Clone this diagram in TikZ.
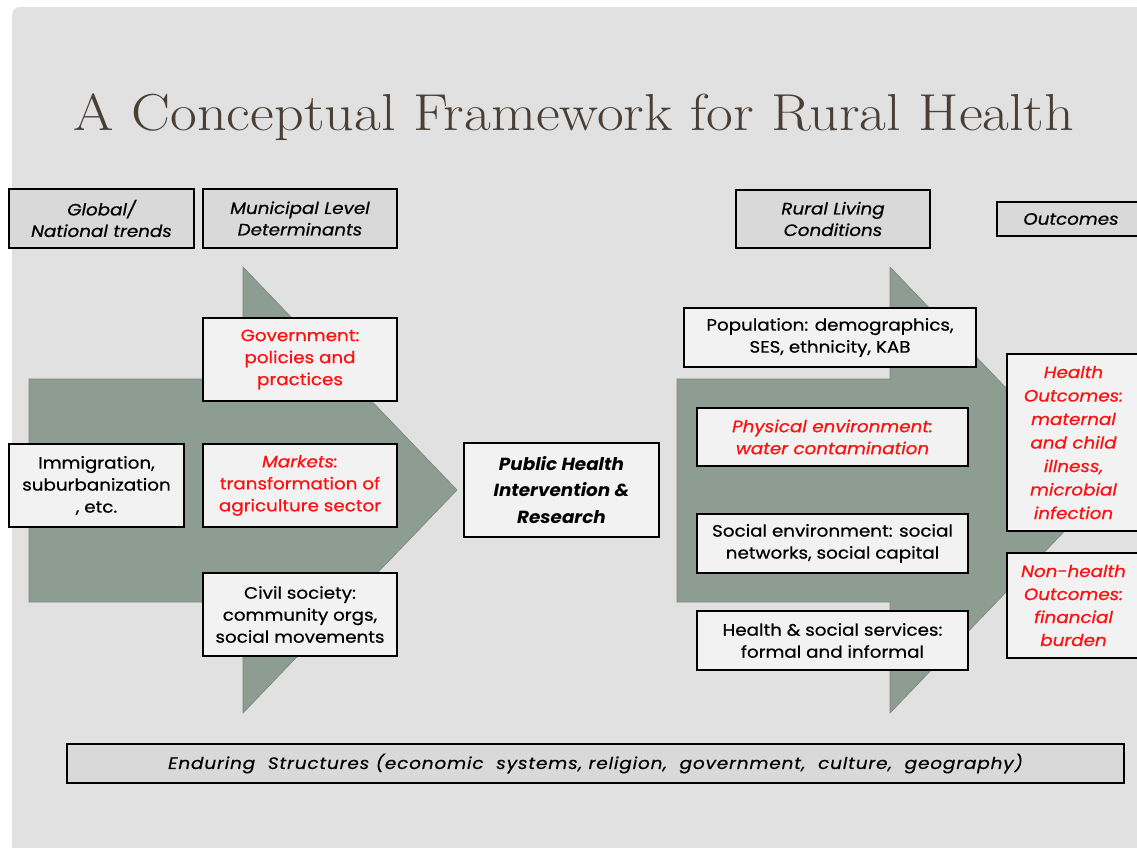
\documentclass[tikz,border=0pt]{standalone}
\usepackage{fontspec}
\newfontfamily\gothic[FakeStretch=1.11,FakeBold=0.5]{Poppins}
\newfontfamily\phfont[FakeStretch=1.05]{Poppins}
\newfontfamily\endfont[FakeStretch=1.12,LetterSpace=5,FakeBold=0.3]{Poppins}
\definecolor{panel}{HTML}{E1E1E1}
\definecolor{arrowc}{HTML}{8E9D92}
\definecolor{hdrfill}{HTML}{D9D9D9}
\definecolor{boxfill}{HTML}{F2F2F2}
\definecolor{titlec}{HTML}{4A3F36}
\definecolor{redt}{HTML}{FF1010}
\tikzset{
  box/.style={draw=black, line width=1.6pt, fill=boxfill, inner sep=1pt, align=center,
    font=\gothic\fontsize{16.5}{22}\selectfont},
  hdr/.style={box, fill=hdrfill, font=\gothic\itshape\fontsize{16.5}{21.5}\selectfont},
  redtxt/.style={text=redt},
  bigarrow/.style={fill=arrowc, draw=arrowc!85!black, line width=0.6pt},
}
\begin{document}
\begin{tikzpicture}[x=1pt,y=-1pt]
\useasboundingbox (0,0) rectangle (1137,847);
\clip (0,0) rectangle (1137,847);
\fill[white] (0,0) rectangle (1137,847);
\fill[panel, rounded corners=8pt] (12,7) rectangle (1170,880);
% title
\node[text=titlec, font=\fontsize{52}{58}\selectfont, anchor=base] (title) at (574,130) {\scalebox{1.12}[1]{A Conceptual Framework for Rural Health}};
% big arrows
\draw[bigarrow] (29,379) -- (243,379) -- (243,267) -- (457,490) -- (243,713) -- (243,602) -- (29,602) -- cycle;
\draw[bigarrow] (677,379) -- (890,379) -- (890,267) -- (1104,490) -- (890,713) -- (890,602) -- (677,602) -- cycle;
% headers
\node[hdr, minimum width=185, minimum height=59] (glob) at (101.5,218.5) {Global/\\National trends};
\node[hdr, minimum width=194, minimum height=59] (muni) at (300,218.5) {Municipal Level\\Determinants};
\node[hdr, minimum width=194, minimum height=58] (rural) at (833,219) {Rural Living\\Conditions};
\node[hdr, minimum width=148, minimum height=34] (outc) at (1071,219) {Outcomes};
% left boxes
\node[box, redtxt, minimum width=194, minimum height=83] (gov) at (300,359.5) {Government:\\policies and\\practices};
\node[box, minimum width=175, minimum height=83] (immig) at (96.5,485.5) {Immigration,\\suburbanization\\, etc.};
\node[box, redtxt, minimum width=194, minimum height=83] (mkt) at (300,485.5) {\itshape Markets:\\transformation of\\agriculture sector};
\node[box, minimum width=194, minimum height=83] (civil) at (300,614.5) {Civil society:\\community orgs,\\social movements};
% center
\node[box, minimum width=195, minimum height=94, font=\phfont\bfseries\itshape\fontsize{17.5}{26.5}\selectfont] (ph) at (561.5,490) {Public Health\\Intervention \&\\Research};
% right boxes
\node[box, minimum width=292, minimum height=59] (pop) at (830,337.5) {Population: demographics,\\SES, ethnicity, KAB};
\node[box, redtxt, minimum width=271, minimum height=58, font=\gothic\itshape\fontsize{16.5}{22}\selectfont] (phys) at (832.5,437) {Physical environment:\\water contamination};
\node[box, minimum width=271, minimum height=59] (soc) at (832.5,543.5) {Social environment: social\\networks, social capital};
\node[box, minimum width=271, minimum height=59] (hss) at (832.5,640.5) {Health \& social services:\\formal and informal};
% outcomes
\node[box, redtxt, minimum width=133, minimum height=177, font=\gothic\itshape\fontsize{16.5}{23.5}\selectfont] (hout) at (1073.5,442.5) {Health\\Outcomes:\\maternal\\and child\\illness,\\microbial\\infection};
\node[box, redtxt, minimum width=133, minimum height=105, font=\gothic\itshape\fontsize{16.5}{23}\selectfont] (nonh) at (1073.5,605.5) {Non-health\\Outcomes:\\financial\\burden};
% enduring
\node[hdr, minimum width=1057, minimum height=39, font=\endfont\itshape\fontsize{16.5}{20}\selectfont] (endur) at (595.5,763.5) {Enduring\ \ Structures (economic\ \ systems, religion,\ \ government,\ \ culture,\ \ geography)};
\end{tikzpicture}
\end{document}
